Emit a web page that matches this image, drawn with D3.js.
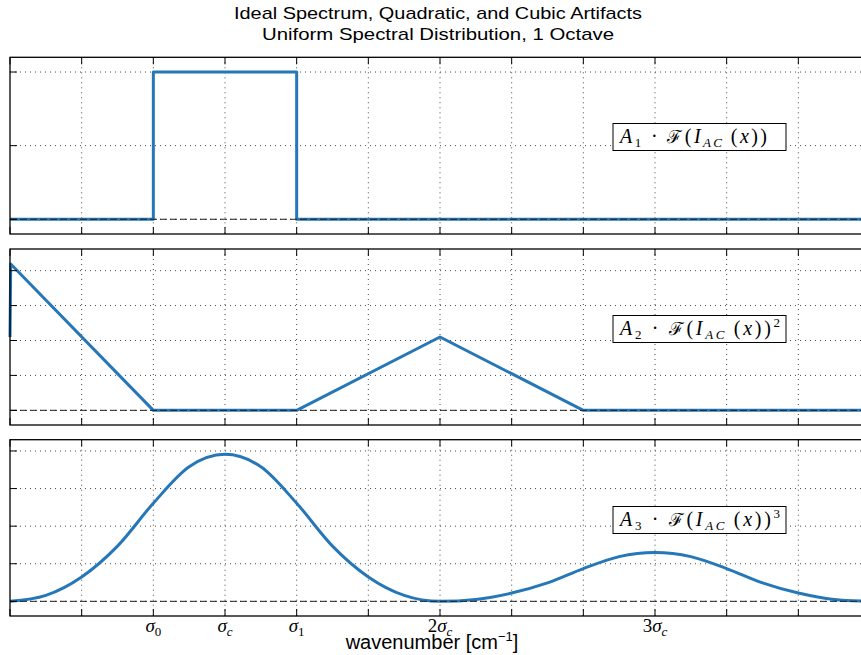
<!DOCTYPE html>
<html>
<head>
<meta charset="utf-8">
<script src="https://cdn.jsdelivr.net/npm/d3@7"></script>
<style>
  body { margin: 0; background: #fff; }
  svg { display: block; font-family: "Liberation Sans", Arial, sans-serif; }
</style>
</head>
<body>
<svg id="chart" width="861" height="655"></svg>
<script>
// data (x in units where sigma_c = 3)
var p1X = [0, 2, 2, 4, 4, 12];
var p1Y = [0, 0, 2, 2, 0, 0];

var p2X = [0, 0.01, 2, 4, 6, 8, 12];
var p2Y = [2.1, 4.19, 0, 0, 2.1, 0, 0];

var p3X = [0, 0.5, 1, 1.5, 2, 2.5, 3, 3.5, 4, 4.5, 5, 5.5, 6,
           6.5, 7, 7.5, 8, 8.5, 9, 9.5, 10, 10.5, 11, 11.5, 12];
var p3Y = [0, 0.16, 0.65, 1.47, 2.61, 3.58, 3.91, 3.58, 2.61, 1.47, 0.65, 0.16, 0,
           0.05, 0.22, 0.49, 0.87, 1.19, 1.3, 1.19, 0.87, 0.49, 0.22, 0.05, 0];

var xTickValues = [0, 1, 2, 3, 4, 5, 6, 7, 8, 9, 10, 11, 12];
var xLabelPos = [2, 3, 4, 6, 9];
var xLabelPre = ["", "", "", "2", "3"];
var xLabelSub = ["0", "c", "1", "c", "c"];

var yTicks1 = [0, 1, 2];
var yTicks2 = [0, 1, 2, 3, 4];
var yTicks3 = [0, 1, 2, 3, 4];

var legendSub = ["1", "2", "3"];
var legendPow = ["", "2", "3"];

var titleLines = ["Ideal Spectrum, Quadratic, and Cubic Artifacts",
                  "Uniform Spectral Distribution, 1 Octave"];
var xAxisLabel = "wavenumber [cm";

const svg = d3.select("#chart");
const blue = "#2677b8";
const left = 10, right = 870;
const serif = "'Liberation Serif', 'DejaVu Serif', serif";

var x = d3.scaleLinear().domain([0, 12]).range([left, right]);

var panels = [
  { xs: p1X, ys: p1Y, dom: [-0.2, 2.2], top: 57.3, bottom: 234, ticks: yTicks1, curve: d3.curveLinear, boxY: 123.5 },
  { xs: p2X, ys: p2Y, dom: [-0.42, 4.62], top: 249, bottom: 425, ticks: yTicks2, curve: d3.curveLinear, boxY: 315.5 },
  { xs: p3X, ys: p3Y, dom: [-0.39, 4.3], top: 439.7, bottom: 616, ticks: yTicks3, curve: d3.curveMonotoneX, boxY: 506.5 }
];

panels.forEach(function(p, i) {
  var y = d3.scaleLinear().domain(p.dom).range([p.bottom, p.top]);
  var g = svg.append("g");

  // grid
  g.selectAll(".vg").data(xTickValues.slice(1)).enter().append("line")
    .attr("x1", d => x(d)).attr("x2", d => x(d))
    .attr("y1", p.top).attr("y2", p.bottom)
    .attr("stroke", "#333").attr("stroke-width", 0.9).attr("stroke-dasharray", "1,4");
  g.selectAll(".hg").data(p.ticks).enter().append("line")
    .attr("x1", left).attr("x2", right)
    .attr("y1", d => y(d)).attr("y2", d => y(d))
    .attr("stroke", "#333").attr("stroke-width", 0.9).attr("stroke-dasharray", "1,4");

  // data line
  var pts = p.xs.map((v, k) => [v, p.ys[k]]);
  g.append("path")
    .attr("d", d3.line().x(d => x(d[0])).y(d => y(d[1])).curve(p.curve)(pts))
    .attr("fill", "none").attr("stroke", blue).attr("stroke-width", 3)
    .attr("stroke-linejoin", "round");

  // zero line
  g.append("line")
    .attr("x1", left).attr("x2", right).attr("y1", y(0)).attr("y2", y(0))
    .attr("stroke", "#222").attr("stroke-width", 1).attr("stroke-dasharray", "7,3");

  // ticks (inward)
  g.selectAll(".tb").data(xTickValues).enter().append("line")
    .attr("x1", d => x(d)).attr("x2", d => x(d))
    .attr("y1", p.bottom).attr("y2", p.bottom - 7)
    .attr("stroke", "#000");
  g.selectAll(".tt").data(xTickValues).enter().append("line")
    .attr("x1", d => x(d)).attr("x2", d => x(d))
    .attr("y1", p.top).attr("y2", p.top + 7)
    .attr("stroke", "#000");
  g.selectAll(".ty").data(p.ticks).enter().append("line")
    .attr("x1", left).attr("x2", left + 7)
    .attr("y1", d => y(d)).attr("y2", d => y(d))
    .attr("stroke", "#000");

  // frame
  g.append("rect")
    .attr("x", left).attr("y", p.top)
    .attr("width", right - left).attr("height", p.bottom - p.top)
    .attr("fill", "none").attr("stroke", "#000").attr("stroke-width", 1.3);

  // label box
  var bx = 613, bw = 173, bh = 27;
  g.append("rect")
    .attr("x", bx).attr("y", p.boxY).attr("width", bw).attr("height", bh)
    .attr("fill", "#fff").attr("stroke", "#000").attr("stroke-width", 1);
  var t = g.append("text")
    .attr("x", bx + 7).attr("y", p.boxY + 19)
    .attr("font-family", serif)
    .attr("font-size", 20)
    .attr("textLength", legendPow[i] ? 160 : 147).attr("lengthAdjust", "spacing");
  t.append("tspan").attr("font-style", "italic").text("A");
  t.append("tspan").attr("font-size", 13).attr("dy", 4).text(legendSub[i]);
  t.append("tspan").attr("dy", -4).text(" · ");
  t.append("tspan").attr("font-family", "'DejaVu Serif', serif").attr("font-size", 18).text("ℱ");
  t.append("tspan").text("(");
  t.append("tspan").attr("font-style", "italic").text("I");
  t.append("tspan").attr("font-style", "italic").attr("font-size", 13).attr("dy", 4).text("AC");
  t.append("tspan").attr("dy", -4).text("\u2009(");
  t.append("tspan").attr("font-style", "italic").text("x");
  t.append("tspan").text("))");
  if (legendPow[i]) t.append("tspan").attr("font-size", 13).attr("dy", -8).text(legendPow[i]);
});

// x tick labels on bottom panel
var labY = 632;
xLabelPos.forEach(function(v, k) {
  var t = svg.append("text")
    .attr("x", x(v)).attr("y", labY)
    .attr("text-anchor", "middle")
    .attr("font-family", serif)
    .attr("font-size", 19);
  if (xLabelPre[k]) t.append("tspan").text(xLabelPre[k]);
  t.append("tspan").attr("font-style", "italic").text("σ");
  t.append("tspan").attr("font-size", 13).attr("dy", 4)
    .attr("font-style", xLabelSub[k] === "c" ? "italic" : "normal").text(xLabelSub[k]);
});

// x axis label
var xl = svg.append("text")
  .attr("x", 432).attr("y", 649)
  .attr("text-anchor", "middle")
  .attr("font-size", 20).attr("fill", "#000");
xl.append("tspan").text(xAxisLabel);
xl.append("tspan").attr("font-size", 13).attr("dy", -8).text("−1");
xl.append("tspan").attr("dy", 8).text("]");

// title
svg.selectAll(".title").data(titleLines).enter().append("text")
  .attr("x", 438).attr("y", (d, i) => 19 + i * 21)
  .attr("text-anchor", "middle")
  .attr("font-size", 17)
  .attr("textLength", (d, i) => i === 0 ? 408 : 352)
  .attr("lengthAdjust", "spacingAndGlyphs")
  .text(d => d);
</script>
</body>
</html>
